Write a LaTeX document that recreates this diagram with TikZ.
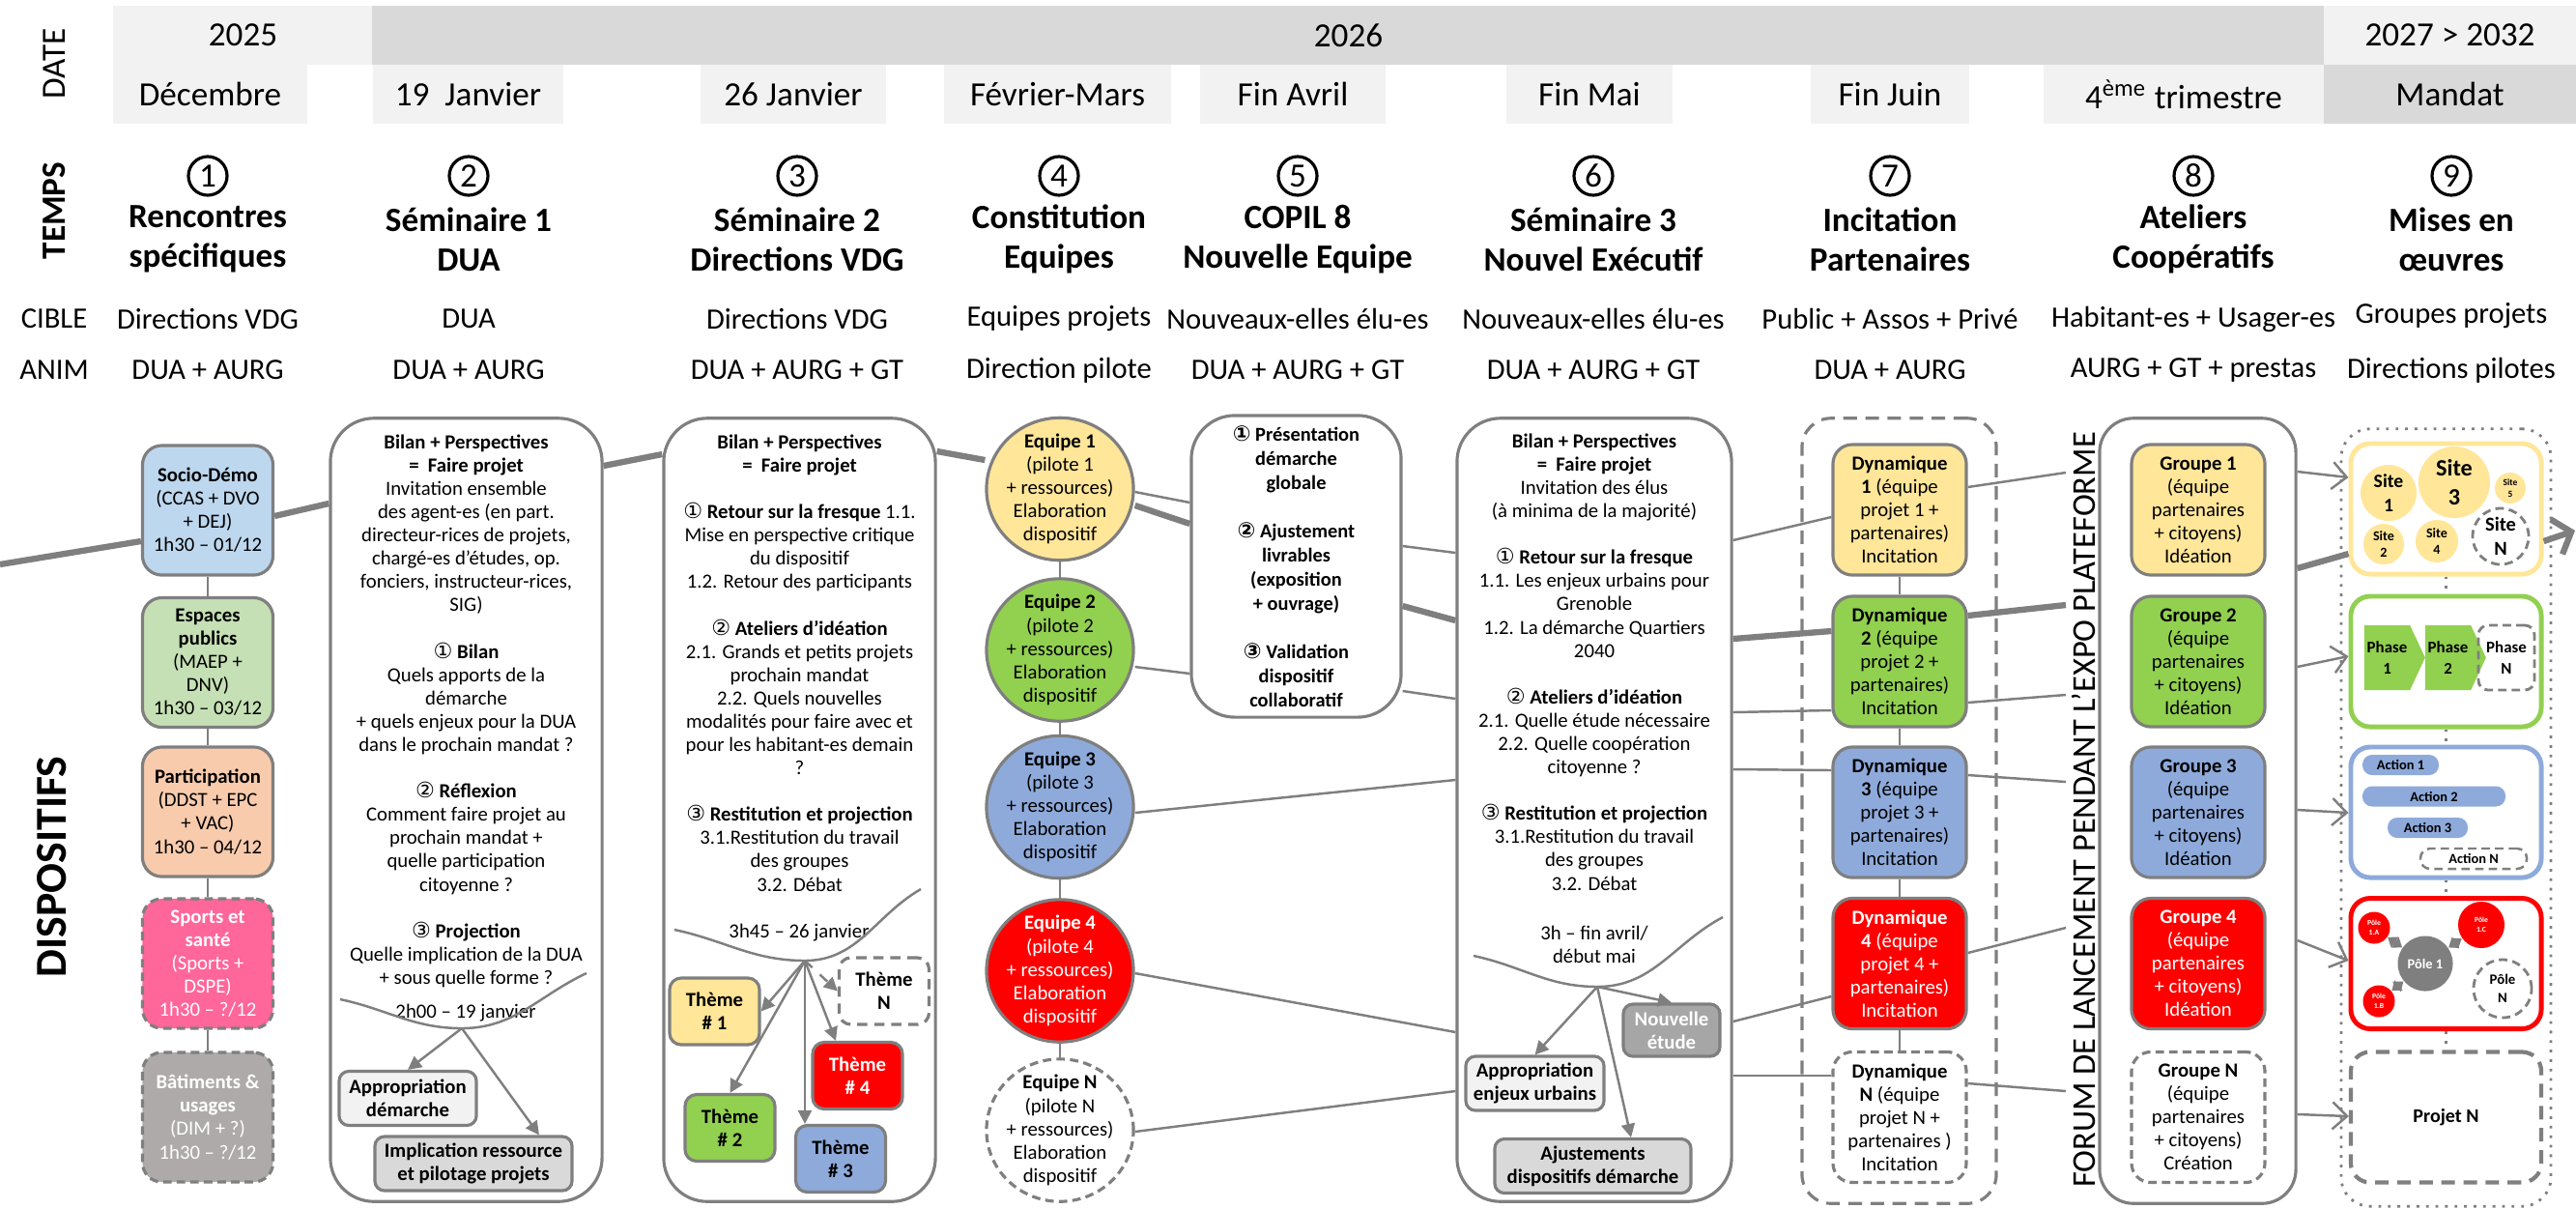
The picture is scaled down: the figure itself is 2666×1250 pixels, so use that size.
\documentclass[tikz,border=0pt]{standalone}
\usepackage{fontspec}
\setmainfont{Carlito}
\newfontfamily\symb{DejaVu Sans}
\usetikzlibrary{shapes.geometric,shapes.symbols,arrows.meta}

\definecolor{trait}{HTML}{7F7F7F}
\definecolor{clair}{HTML}{F2F2F2}
\definecolor{moyen}{HTML}{D9D9D9}
\definecolor{jaune}{HTML}{FFE699}
\definecolor{vert}{HTML}{92D050}
\definecolor{bleu}{HTML}{8EAADB}
\definecolor{rouge}{HTML}{FF0000}
\definecolor{socio}{HTML}{BDD7EE}
\definecolor{espace}{HTML}{C5E0B4}
\definecolor{partic}{HTML}{F8CBAD}
\definecolor{sport}{HTML}{FF6699}
\definecolor{batim}{HTML}{AEAAAA}
\definecolor{etude}{HTML}{A6A6A6}

\newcommand{\bx}{\fontsize{5.9}{6.85}\selectfont}
\newcommand{\gfont}[2]{\bfseries\fontsize{#1}{#2}\selectfont}
\newcommand{\rond}[1]{{\symb\fontsize{6.3}{6}\selectfont #1}}
\newcommand{\blanc}{6.85pt}

\begin{document}
\begin{tikzpicture}[x=0.01cm,y=-0.01cm,
    hdr/.style={fill=clair,minimum height=0.61cm,inner sep=0,font=\fontsize{10}{12}\selectfont},
    num/.style={circle,draw,line width=0.9pt,minimum size=0.4cm,inner sep=0,font=\fontsize{10}{10}\selectfont},
    titre/.style={align=center,inner sep=0,font=\fontsize{10}{11.7}\selectfont\bfseries},
    ligne/.style={inner sep=0,font=\fontsize{8.7}{10}\selectfont},
    rdv/.style={draw=trait,line width=0.9pt,rounded corners=0.2cm,minimum width=1.35cm,minimum height=1.34cm,inner sep=0,align=center,font=\bx},
    sem/.style={draw=trait,line width=0.9pt,rounded corners=0.45cm,minimum width=2.81cm,minimum height=8.1cm},
    bloc/.style={anchor=north,align=center,inner sep=0,font=\bx},
    equipe/.style={ellipse,draw=trait,line width=0.9pt,minimum width=1.52cm,minimum height=1.47cm,inner sep=-0.5mm,align=center,font=\bx},
    cadre/.style={draw=trait,line width=0.9pt,rounded corners=0.2cm,minimum width=1.38cm,minimum height=1.35cm,inner sep=0,align=center,font=\bx},
    theme/.style={draw=trait,line width=0.9pt,rounded corners=0.12cm,minimum width=0.93cm,minimum height=0.69cm,inner sep=0,align=center,font=\bx\bfseries},
    res/.style={draw=trait,line width=0.9pt,rounded corners=0.1cm,minimum height=0.56cm,inner sep=0,align=center,font=\bx\bfseries},
    projet/.style={line width=1.4pt,rounded corners=0.2cm,minimum width=1.97cm,minimum height=1.35cm,inner sep=0},
    bulle/.style={circle,inner sep=0,align=center},
    tirets/.style={dash pattern=on 2.5pt off 1.5pt},
    lien/.style={trait,line width=0.7pt},
    fil/.style={trait,line width=1.8pt},
    fleche/.style={trait,line width=0.7pt,-{Triangle[length=1.4mm,width=1.4mm]}},
    envoi/.style={trait,line width=0.7pt,-{Straight Barb[length=1.5mm,width=2.8mm]}}
  ]
\useasboundingbox (0,0) rectangle (2666,1250);

\node[hdr,minimum width=2.69cm] (a25) at (251.5,36.5) {2025};
\node[hdr,fill=moyen,minimum width=20.19cm] (a26) at (1395.5,36.5) {2026};
\node[hdr,minimum width=2.61cm] (a27) at (2535.5,36.5) {2027 > 2032};

\node[hdr,minimum width=2.01cm] (dec) at (217.5,97.5) {Décembre};
\node[hdr,minimum width=1.97cm] (j19) at (484.5,97.5) {19~ Janvier};
\node[hdr,minimum width=1.92cm] (j26) at (821,97.5) {26 Janvier};
\node[hdr,minimum width=2.35cm] (fev) at (1094.5,97.5) {Février-Mars};
\node[hdr,minimum width=1.92cm] (avr) at (1338,97.5) {Fin Avril};
\node[hdr,minimum width=1.72cm] (mai) at (1645,97.5) {Fin Mai};
\node[hdr,minimum width=1.64cm] (juin) at (1956,97.5) {Fin Juin};
\node[hdr,minimum width=2.90cm] (trim) at (2260,97.5) {4\textsuperscript{ème} trimestre};
\node[hdr,fill=moyen,minimum width=2.61cm] (mandat) at (2535.5,97.5) {Mandat};

\node[rotate=90,font=\fontsize{10}{12}\selectfont] (ldate) at (56,66) {DATE};
\node[rotate=90,font=\fontsize{10}{12}\selectfont\bfseries] (ltemps) at (56,218) {TEMPS};
\node[ligne] (lcible) at (56,330) {CIBLE};
\node[ligne] (lanim) at (56,383) {ANIM};
\node[rotate=90,font=\fontsize{13}{15}\selectfont\bfseries] (ldisp) at (54,897) {DISPOSITIFS};

\node[num] (n1) at (215,182) {1};
\node[num] (n2) at (485,182) {2};
\node[num] (n3) at (825,182) {3};
\node[num] (n4) at (1096,182) {4};
\node[num] (n5) at (1343,182) {5};
\node[num] (n6) at (1649,182) {6};
\node[num] (n7) at (1956,182) {7};
\node[num] (n8) at (2270,182) {8};
\node[num] (n9) at (2537,182) {9};

\node[titre] (t1) at (215,247.5) {Rencontres\\spécifiques};
\node[titre] (t2) at (485,247.5) {Séminaire 1\\DUA};
\node[titre] (t3) at (825,247.5) {Séminaire 2\\Directions VDG};
\node[titre] (t4) at (1096,247.5) {Constitution\\Equipes};
\node[titre] (t5) at (1343,247.5) {COPIL 8\\Nouvelle Equipe};
\node[titre] (t6) at (1649,247.5) {Séminaire 3\\Nouvel Exécutif};
\node[titre] (t7) at (1956,247.5) {Incitation\\Partenaires};
\node[titre] (t8) at (2270,247.5) {Ateliers\\Coopératifs};
\node[titre] (t9) at (2537,247.5) {Mises en\\œuvres};

\node[ligne] (c1) at (215,330) {Directions VDG};
\node[ligne] (c2) at (485,330) {DUA};
\node[ligne] (c3) at (825,330) {Directions VDG};
\node[ligne] (c4) at (1096,330) {Equipes projets};
\node[ligne] (c5) at (1343,330) {Nouveaux-elles élu-es};
\node[ligne] (c6) at (1649,330) {Nouveaux-elles élu-es};
\node[ligne] (c7) at (1956,330) {Public + Assos + Privé};
\node[ligne] (c8) at (2270,330) {Habitant-es + Usager-es};
\node[ligne] (c9) at (2537,327) {Groupes projets};

\node[ligne] (m1) at (215,383) {DUA + AURG};
\node[ligne] (m2) at (485,383) {DUA + AURG};
\node[ligne] (m3) at (825,383) {DUA + AURG + GT};
\node[ligne] (m4) at (1096,383) {Direction pilote};
\node[ligne] (m5) at (1343,383) {DUA + AURG + GT};
\node[ligne] (m6) at (1649,383) {DUA + AURG + GT};
\node[ligne] (m7) at (1956,383) {DUA + AURG};
\node[ligne] (m8) at (2270,383) {AURG + GT + prestas};
\node[ligne] (m9) at (2537,383) {Directions pilotes};

\node[rdv,fill=socio] (soc) at (215,528) {\textbf{Socio-Démo}\\(CCAS + DVO\\+ DEJ)\\1h30 – 01/12};
\node[rdv,fill=espace] (esp) at (215,685.5) {\textbf{Espaces}\\\textbf{publics}\\(MAEP +\\DNV)\\1h30 – 03/12};
\node[rdv,fill=partic] (par) at (215,840) {\textbf{Participation}\\(DDST + EPC\\+ VAC)\\1h30 – 04/12};
\node[rdv,fill=sport,tirets,text=white] (spo) at (215,997) {\textbf{Sports et}\\\textbf{santé}\\(Sports +\\DSPE)\\1h30 – ?/12};
\node[rdv,fill=batim,tirets,text=white] (bat) at (215,1156) {\textbf{Bâtiments \&}\\\textbf{usages}\\(DIM + ?)\\1h30 – ?/12};
\draw[lien] (soc) -- (esp);
\draw[lien] (esp) -- (par);
\draw[lien] (par) -- (spo);
\draw[lien] (spo) -- (bat);

\node[sem] (sem1) at (482.5,838) {};
\node[bloc] (sem1t) at (482.5,449) {\textbf{Bilan + Perspectives}\\
  \textbf{=\ \ Faire projet}\\
  Invitation ensemble\\
  des agent-es (en part.\\
  directeur-rices de projets,\\
  chargé-es d’études, op.\\
  fonciers, instructeur-rices,\\
  SIG)\\[\blanc]
  \rond{①} \textbf{Bilan}\\
  Quels apports de la\\
  démarche\\
  + quels enjeux pour la DUA\\
  dans le prochain mandat ?\\[\blanc]
  \rond{②} \textbf{Réflexion}\\
  Comment faire projet au\\
  prochain mandat +\\
  quelle participation\\
  citoyenne ?\\[\blanc]
  \rond{③} \textbf{Projection}\\
  Quelle implication de la DUA\\
  + sous quelle forme ?};
\node[font=\bx,inner sep=0] (s1h) at (482,1048) {2h00 – 19 janvier};
\coordinate (s1l) at (352,1034);
\coordinate (s1b) at (478,1064);
\coordinate (s1r) at (607,1007);
\draw[lien] (s1l) to[out=-12,in=180] (s1b) to[out=0,in=205] (s1r);
\node[res,fill=clair,minimum width=1.42cm] (ap1) at (422,1136.5) {Appropriation\\démarche};
\node[res,fill=moyen,minimum width=2.04cm] (imp1) at (490,1204) {Implication ressource\\et pilotage projets};
\draw[fleche] (s1b) -- (ap1.north);
\draw[fleche] (s1b) -- (imp1.north -| 558,0);

\node[sem] (sem2) at (827.5,838) {};
\node[bloc] (sem2t) at (827.5,449) {\textbf{Bilan + Perspectives}\\
  \textbf{=\ \ Faire projet}\\[\blanc]
  \rond{①} \textbf{Retour sur la fresque} 1.1.\\
  Mise en perspective critique\\
  du dispositif\\
  1.2. Retour des participants\\[\blanc]
  \rond{②} \textbf{Ateliers d’idéation}\\
  2.1. Grands et petits projets\\
  prochain mandat\\
  2.2. Quels nouvelles\\
  modalités pour faire avec et\\
  pour les habitant-es demain\\
  ?\\[\blanc]
  \rond{③} \textbf{Restitution et projection}\\
  3.1.Restitution du travail\\
  des groupes\\
  3.2. Débat};
\node[font=\bx,inner sep=0] (s2h) at (827,965) {3h45 – 26 janvier};
\coordinate (s2l) at (698,962);
\coordinate (s2b) at (833,994);
\coordinate (s2r) at (953,920);
\draw[lien] (s2l) to[out=-12,in=180] (s2b) to[out=0,in=210] (s2r);
\node[theme,fill=jaune] (th1) at (739.5,1046.5) {Thème\\\# 1};
\node[theme,fill=vert] (th2) at (755.5,1167) {Thème\\\# 2};
\node[theme,fill=bleu] (th3) at (870,1199) {Thème\\\# 3};
\node[theme,fill=rouge,text=white] (th4) at (887.5,1113) {Thème\\\# 4};
\node[theme,fill=white,dashed,dash pattern=on 3pt off 2pt] (thn) at (915,1025.5) {Thème\\N};
\draw[fleche] (s2b) -- (th1.east);
\draw[fleche] (s2b) -- (th2.north);
\draw[fleche] (s2b) -- (th3.north -| s2b);
\draw[fleche] (s2b) -- (th4.north -| 865,0);
\draw[fleche,dashed] (s2b) -- (thn.west);

\node[equipe,fill=jaune] (eq1) at (1097,506) {\textbf{Equipe 1}\\(pilote 1\\+ ressources)\\Elaboration\\dispositif};
\node[equipe,fill=vert] (eq2) at (1097,672.5) {\textbf{Equipe 2}\\(pilote 2\\+ ressources)\\Elaboration\\dispositif};
\node[equipe,fill=bleu] (eq3) at (1097,835) {\textbf{Equipe 3}\\(pilote 3\\+ ressources)\\Elaboration\\dispositif};
\node[equipe,fill=rouge,text=white] (eq4) at (1097,1004.5) {\textbf{Equipe 4}\\(pilote 4\\+ ressources)\\Elaboration\\dispositif};
\node[equipe,fill=white,tirets] (eqn) at (1097,1169.5) {\textbf{Equipe N}\\(pilote N\\+ ressources)\\Elaboration\\dispositif};
\draw[lien] (eq1) -- (eq2);
\draw[lien] (eq2) -- (eq3);
\draw[lien] (eq3) -- (eq4);
\draw[lien] (eq4) -- (eqn);

\node[sem,minimum width=2.17cm,minimum height=3.12cm,align=center,inner sep=0,font=\fontsize{5.8}{7.1}\selectfont\bfseries] (copil) at (1341.5,586) {\rond{①} Présentation\\démarche\\globale\\[7.1pt]
  \rond{②} Ajustement\\livrables\\(exposition\\+ ouvrage)\\[7.1pt]
  \rond{③} Validation\\dispositif\\collaboratif};

\node[sem,minimum width=2.84cm] (sem3) at (1650,838) {};
\node[bloc] (sem3t) at (1650,448) {\textbf{Bilan + Perspectives}\\
  \textbf{=\ \ Faire projet}\\
  Invitation des élus\\
  (à minima de la majorité)\\[\blanc]
  \rond{①} \textbf{Retour sur la fresque}\\
  1.1. Les enjeux urbains pour\\
  Grenoble\\
  1.2. La démarche Quartiers\\
  2040\\[\blanc]
  \rond{②} \textbf{Ateliers d’idéation}\\
  2.1. Quelle étude nécessaire\\
  2.2. Quelle coopération\\
  citoyenne ?\\[\blanc]
  \rond{③} \textbf{Restitution et projection}\\
  3.1.Restitution du travail\\
  des groupes\\
  3.2. Débat};
\node[font=\bx,align=center,inner sep=0] (s3h) at (1650,977.5) {3h – fin avril/\\début mai};
\coordinate (s3l) at (1525,989);
\coordinate (s3b) at (1653,1021);
\coordinate (s3r) at (1783,949);
\draw[lien] (s3l) to[out=-12,in=180] (s3b) to[out=0,in=208] (s3r);
\node[res,fill=etude,text=white,minimum width=1.0cm,minimum height=0.54cm] (nouv) at (1730,1066) {Nouvelle\\étude};
\node[res,fill=clair,minimum width=1.43cm] (ap3) at (1588.5,1121) {Appropriation\\enjeux urbains};
\node[res,fill=moyen,minimum width=2.03cm] (ajd) at (1648.5,1206.5) {Ajustements\\dispositifs démarche};
\draw[fleche] (s3b) -- (nouv.north);
\draw[fleche] (s3b) -- (ap3.north);
\draw[fleche] (s3b) -- (ajd.north -| 1688,0);

\node[draw=trait,line width=0.9pt,dash pattern=on 4pt off 2.5pt,rounded corners=0.3cm,minimum width=2.01cm,minimum height=8.12cm] (dynbox) at (1965.5,839) {};
\node[cadre,fill=jaune] (dyn1) at (1966,527.5) {\textbf{Dynamique}\\\textbf{1} (équipe\\projet 1 +\\partenaires)\\Incitation};
\node[cadre,fill=vert] (dyn2) at (1966,684.5) {\textbf{Dynamique}\\\textbf{2} (équipe\\projet 2 +\\partenaires)\\Incitation};
\node[cadre,fill=bleu] (dyn3) at (1966,840.5) {\textbf{Dynamique}\\\textbf{3} (équipe\\projet 3 +\\partenaires)\\Incitation};
\node[cadre,fill=rouge,text=white] (dyn4) at (1966,997) {\textbf{Dynamique}\\\textbf{4} (équipe\\projet 4 +\\partenaires)\\Incitation};
\node[cadre,fill=white,tirets] (dynn) at (1966,1156) {\textbf{Dynamique}\\\textbf{N} (équipe\\projet N +\\partenaires )\\Incitation};
\draw[lien] (dyn1) -- (dyn2);
\draw[lien] (dyn2) -- (dyn3);
\draw[lien] (dyn3) -- (dyn4);
\draw[lien] (dyn4) -- (dynn);

\node[rotate=90,inner sep=0,font=\fontsize{9.8}{12}\selectfont] (forum) at (2156,838) {FORUM DE LANCEMENT PENDANT L’EXPO PLATEFORME};
\coordinate (f1) at (2138,489);
\coordinate (f2) at (2138,626);
\coordinate (f3) at (2138,719);
\coordinate (f4) at (2138,809);
\coordinate (f5) at (2138,960);
\coordinate (f6) at (2138,1129);

\node[draw=trait,line width=0.9pt,rounded corners=0.35cm,minimum width=2.03cm,minimum height=8.12cm] (grp) at (2274.5,839) {};
\node[cadre,fill=jaune] (grp1) at (2275,527.5) {\textbf{Groupe 1}\\(équipe\\partenaires\\+ citoyens)\\Idéation};
\node[cadre,fill=vert] (grp2) at (2275,684.5) {\textbf{Groupe 2}\\(équipe\\partenaires\\+ citoyens)\\Idéation};
\node[cadre,fill=bleu] (grp3) at (2275,840.5) {\textbf{Groupe 3}\\(équipe\\partenaires\\+ citoyens)\\Idéation};
\node[cadre,fill=rouge,text=white] (grp4) at (2275,997) {\textbf{Groupe 4}\\(équipe\\partenaires\\+ citoyens)\\Idéation};
\node[cadre,fill=white,tirets] (grpn) at (2275,1156) {\textbf{Groupe N}\\(équipe\\partenaires\\+ citoyens)\\Création};

\node[draw=trait,dotted,line width=0.8pt,rounded corners=0.3cm,minimum width=2.17cm,minimum height=8.04cm] (mise) at (2531.5,846) {};
\node[projet,draw=jaune] (site) at (2531.5,526.5) {};
\node[projet,draw=vert] (phase) at (2531.5,684.5) {};
\node[projet,draw=bleu] (action) at (2531.5,840.5) {};
\node[projet,draw=rouge] (pole) at (2531.5,997) {};
\node[projet,draw=trait,line width=1.2pt,dash pattern=on 4pt off 2.5pt,font=\gfont{5.7}{6.5}] (projn) at (2531.5,1156) {Projet N};
\draw[trait,dotted,line width=0.8pt] (site) -- (phase);
\draw[trait,dotted,line width=0.8pt] (phase) -- (action);
\draw[trait,dotted,line width=0.8pt] (action) -- (pole);
\draw[trait,dotted,line width=0.8pt] (pole) -- (projn);

\node[bulle,fill=jaune,minimum size=0.58cm,font=\gfont{5.6}{7}] (si1) at (2472,510) {Site\\1};
\node[bulle,fill=jaune,minimum size=0.74cm,font=\gfont{6.9}{8.5}] (si3) at (2540,499) {Site\\3};
\node[bulle,fill=jaune,minimum size=0.32cm,font=\gfont{2.7}{3.3}] (si5) at (2598,505) {Site\\5};
\node[bulle,fill=jaune,minimum size=0.42cm,font=\gfont{4}{5}] (si2) at (2467,563) {Site\\2};
\node[bulle,fill=jaune,minimum size=0.44cm,font=\gfont{4}{5}] (si4) at (2522,560) {Site\\4};
\node[bulle,draw=trait,tirets,line width=0.8pt,minimum size=0.58cm,font=\gfont{5.8}{7}] (sin) at (2588,555) {Site\\N};

\node[signal,signal to=east,signal pointer angle=130,fill=vert,minimum width=0.63cm,minimum height=0.67cm,inner sep=0,align=center,font=\gfont{4.8}{6.2}] (ph1) at (2470.5,680.5) {Phase\\1};
\node[signal,signal to=east,signal pointer angle=130,fill=vert,minimum width=0.63cm,minimum height=0.67cm,inner sep=0,align=center,font=\gfont{4.8}{6.2}] (ph2) at (2533.5,680.5) {Phase\\2};
\node[draw=trait,tirets,line width=0.8pt,rounded corners=0.1cm,minimum width=0.58cm,minimum height=0.67cm,inner sep=0,align=center,font=\gfont{4.8}{6.2}] (phn) at (2594,680.5) {Phase\\N};

\node[fill=bleu,rounded corners=0.1cm,minimum width=0.79cm,minimum height=0.21cm,inner sep=0,font=\gfont{4.1}{4.5}] (ac1) at (2484.5,791.5) {Action 1};
\node[fill=bleu,rounded corners=0.1cm,minimum width=1.48cm,minimum height=0.21cm,inner sep=0,font=\gfont{4.1}{4.5}] (ac2) at (2519,824) {Action 2};
\node[fill=bleu,rounded corners=0.1cm,minimum width=0.83cm,minimum height=0.21cm,inner sep=0,font=\gfont{4.1}{4.5}] (ac3) at (2512.5,856.5) {Action 3};
\node[draw=trait,tirets,line width=0.7pt,rounded corners=0.1cm,minimum width=1.10cm,minimum height=0.21cm,inner sep=0,font=\gfont{4.1}{4.5}] (acn) at (2560,888.5) {Action N};

\node[bulle,fill=trait,text=white,minimum size=0.57cm,font=\gfont{4.1}{5}] (po1) at (2510,997) {Pôle 1};
\node[bulle,fill=rouge,text=white,minimum size=0.33cm,font=\gfont{2.2}{2.8}] (poa) at (2457,960) {Pôle\\1.A};
\node[bulle,fill=rouge,text=white,minimum size=0.33cm,font=\gfont{2.2}{2.8}] (pob) at (2462,1036) {Pôle\\1.B};
\node[bulle,fill=rouge,text=white,minimum size=0.48cm,font=\gfont{2.2}{2.8}] (poc) at (2568,957) {Pôle\\1.C};
\node[bulle,draw=trait,tirets,line width=0.8pt,minimum size=0.6cm,font=\gfont{4.2}{5.5}] (pon) at (2590,1023) {Pôle\\N};
\draw[trait,line width=1.1pt,{Triangle[length=0.9mm,width=1.3mm]}-{Triangle[length=0.9mm,width=1.3mm]}] (po1) -- (poa);
\draw[trait,line width=1.1pt,{Triangle[length=0.9mm,width=1.3mm]}-{Triangle[length=0.9mm,width=1.3mm]}] (po1) -- (pob);
\draw[trait,line width=1.1pt,{Triangle[length=0.9mm,width=1.3mm]}-{Triangle[length=0.9mm,width=1.3mm]}] (po1) -- (poc);

\coordinate (debut) at (0,584);
\coordinate (fin) at (2665,549);
\draw[fil] (debut) -- (soc.west |- 0,560);
\draw[fil] (soc.east |- 0,534) -- (sem1.west |- 0,521);
\draw[fil] (sem1.east |- 0,482) -- (sem2.west |- 0,470);
\draw[fil] (sem2.east |- 0,467) -- (eq1.west |- 0,476);
\draw[fil] (eq1.east |- 0,523) -- (copil.west |- 0,542);
\draw[fil] (copil.east |- 0,627) -- (sem3.west |- 0,642);
\draw[fil] (sem3.east |- 0,661) -- (dyn2.west |- 0,653);
\draw[fil] (dyn2.east |- 0,637) -- (f2);
\draw[fil] (grp.east |- 0,588) -- (site.west |- 0,573);
\draw[fil,-{Straight Barb[length=1.6mm,width=3.8mm]}] (site.east |- 0,560) -- (fin);

\draw[lien] (eq1.east |- 0,509) -- (copil.west |- 0,520);
\draw[lien] (eq2.east |- 0,690) -- (copil.west |- 0,697);
\draw[lien] (eq3.east |- 0,841) -- (sem3.west |- 0,807);
\draw[lien] (eq4.east |- 0,1007) -- (sem3.west |- 0,1068);
\draw[lien] (eqn.east |- 0,1171) -- (sem3.west |- 0,1129);
\draw[lien] (copil.east |- 0,565) -- (sem3.west |- 0,572);
\draw[lien] (copil.east |- 0,715) -- (sem3.west |- 0,723);

\draw[lien] (sem3.east |- 0,559) -- (dyn1.west |- 0,535);
\draw[lien] (sem3.east |- 0,737) -- (dyn2.west |- 0,735);
\draw[lien] (sem3.east |- 0,796) -- (dyn3.west |- 0,797);
\draw[lien] (sem3.east |- 0,1057) -- (dyn4.west |- 0,1031);
\draw[lien] (sem3.east |- 0,1113) -- (dynn.west |- 0,1113);

\draw[lien] (dyn1.east |- 0,504) -- (f1);
\draw[lien] (dyn2.east |- 0,727) -- (f3);
\draw[lien] (dyn3.east |- 0,802) -- (f4);
\draw[lien] (dyn4.east |- 0,986) -- (f5);
\draw[lien] (dynn.east |- 0,1121) -- (f6);

\draw[envoi] (grp.east |- 0,488) -- (site.west |- 0,494);
\draw[envoi] (grp.east |- 0,690) -- (phase.west |- 0,679);
\draw[envoi] (grp.east |- 0,838) -- (action.west |- 0,841);
\draw[envoi] (grp.east |- 0,973) -- (pole.west |- 0,994);
\draw[envoi] (grp.east |- 0,1153) -- (projn.west |- 0,1155);

\end{tikzpicture}
\end{document}
